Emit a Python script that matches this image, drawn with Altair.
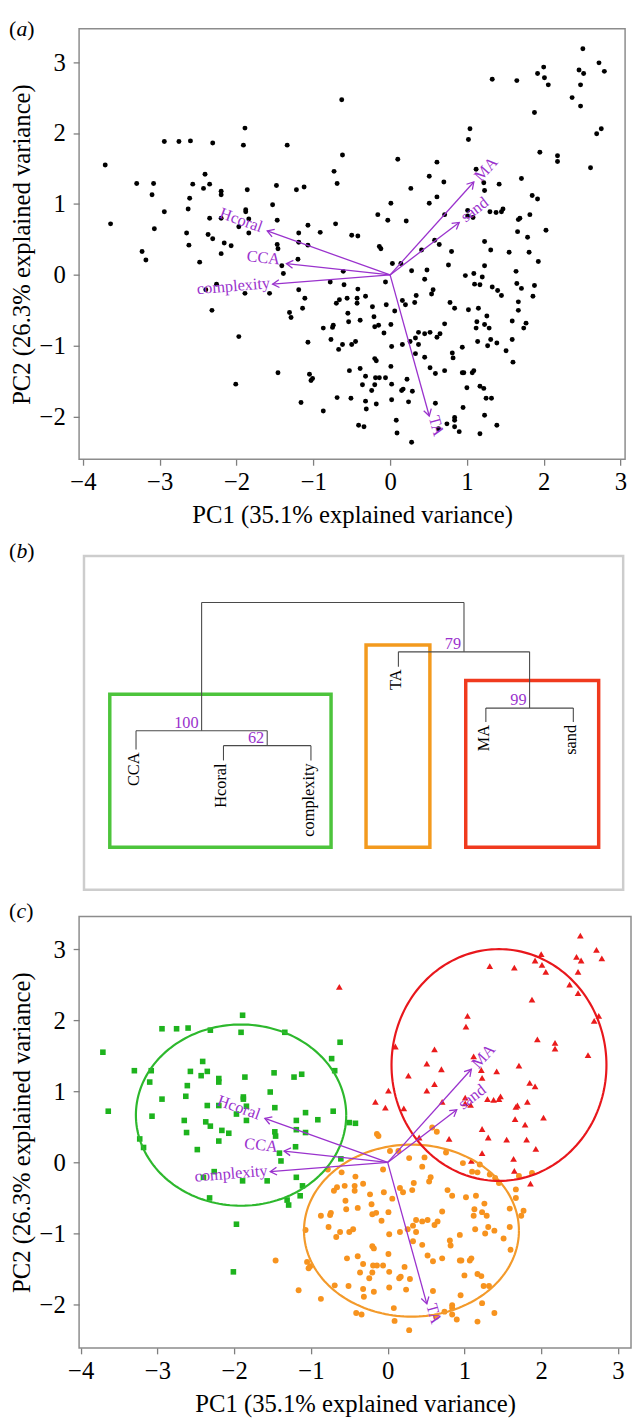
import math
import numpy as np
import pandas as pd
import altair as alt

FONT = "Liberation Serif"
PURPLE = "#9A32CD"

# ---------------- PCA scores (PC1, PC2), split by cluster ----------------
green_x = [-3.71, -3.64, -3.30, -3.23, -3.18, -3.10, -3.08, -3.07, -2.94, -2.94, -2.75, -2.60, -2.65, -2.63,
           -2.61, -2.62, -2.57, -2.41, -2.48, -2.43, -2.35, -2.37, -2.31, -2.35, -2.31, -2.32, -2.40, -2.26,
           -2.20, -2.20, -2.20, -2.20, -2.16, -2.07, -1.97, -1.89, -1.91, -1.88, -1.88, -1.86, -1.97, -1.84,
           -1.84, -1.89, -1.57, -1.53, -1.48, -1.47, -1.47, -1.46, -1.39, -1.41, -1.34, -1.31, -1.29, -1.22,
           -1.19, -1.19, -1.20, -1.19, -1.14, -1.11, -1.12, -1.07, -1.07, -0.91, -0.73, -0.69, -0.71, -0.62,
           -0.61, -0.50, -0.42, -2.01]
green_y = [1.55, 0.72, 1.29, 0.33, 0.21, 1.13, 1.29, 0.65, 1.88, 0.89, 1.88, 1.89, 0.59, 0.93,
           1.08, 0.42, 1.28, 1.42, 0.18, 1.22, 1.28, 0.57, 1.86, 0.80, 0.51, -0.50, -0.21, -0.13,
           1.18, 1.13, 0.80, 0.30, 0.45, 0.41, -0.87, 2.07, 1.83, 0.92, 0.89, 1.20, 0.68, 0.59,
           0.79, -0.26, -0.26, 0.99, 1.26, 0.77, 0.43, 0.37, 0.02, 0.13, 1.83, -0.53, -0.60, 1.20,
           0.59, 0.46, 0.22, -0.21, -0.47, -0.33, 1.24, 0.42, 0.70, 0.60, 1.46, 1.29, 0.72, 1.69,
           0.05, 0.56, 0.55, -1.54]

red_x = [-0.63, -0.16, -0.03, 0.01, 0.10, 0.21, 0.27, 0.41, 0.51, 0.51, 0.61, 0.61, 0.70, 0.71,
         0.80, 1.01, 1.01, 1.04, 1.02, 1.08, 1.12, 1.22, 1.23, 1.23, 1.23, 1.30, 1.31, 1.33,
         1.38, 1.42, 1.45, 1.47, 1.55, 1.64, 1.65, 1.65, 1.66, 1.67, 1.69, 1.71, 1.79, 1.81,
         1.82, 1.85, 1.86, 1.88, 1.92, 1.92, 1.93, 1.95, 2.00, 2.01, 2.03, 2.06, 2.18, 2.18,
         2.37, 2.46, 2.48, 2.48, 2.51, 2.52, 2.61, 2.69, 2.72, 2.75, 2.79, 1.09]
red_y = [2.47, 0.85, 0.77, 1.01, 1.63, 0.76, 1.22, 0.35, 1.39, 1.01, 1.59, 1.10, 1.31, 0.85,
         0.33, 0.91, 0.83, 2.06, 1.91, 0.81, 1.49, 1.30, 1.19, 0.47, 0.13, 0.89, 0.35, 2.76,
         0.88, 1.28, 0.89, 0.93, 0.32, 0.05, 2.74, -0.12, 0.61, 0.78, 0.80, 1.36, 0.53, 0.32,
         0.85, 1.12, -0.30, 2.29, 1.07, 2.84, 0.19, 1.73, 2.93, 2.78, 0.63, 2.68, 1.68, 1.60,
         2.50, 2.89, 2.68, 2.38, 3.19, 2.84, 1.51, 1.99, 2.99, 2.06, 2.87, 0.02]

orange_x = [-0.78, -0.60, -0.70, -0.66, -0.56, -0.55, -0.54, -0.43, -0.43, -0.42, -0.39, -0.32, -0.23, -0.21,
            -0.14, -0.12, -0.20, -0.15, -0.05, -0.06, 0.01, 0.03, 0.06, 0.14, 0.16, 0.20, 0.28, 0.34,
            0.32, 0.45, 0.48, 0.54, 0.56, 0.52, 0.58, 0.64, 0.76, 0.78, 0.84, 0.98, 1.02, 1.10,
            1.13, 1.12, 1.15, 1.17, 1.20, 1.26, 1.23, 1.29, 1.33, 1.40, 1.45, 1.59, 1.67, 1.67,
            1.71, 1.77, 1.74, 1.88, -0.75, -0.74, -0.87, 0.37, 0.45, 0.65, 0.71, -0.08,
            -1.07, -0.77, -0.67, -0.62, -0.50, -0.45, 0.02, 0.16, 0.26, 0.33, 0.37, 0.33, 0.45, 0.61,
            0.81, 0.82, 0.94, 1.14, 1.27, 1.31, 1.39, 1.51, 1.60, 1.59, -1.46, -1.05, -1.01, -1.03,
            -1.16, -0.87, -0.69, -0.53, -0.51, -0.39, -0.32, -0.36, -0.32, -0.31, -0.20, -0.18, -0.24, -0.20,
            -0.19, -0.18, -0.14, -0.06, 0.01, 0.02, 0.02, 0.15, 0.17, 0.22, 0.24, 0.29, 0.08, 0.09,
            0.28, 0.52, 0.59, 0.71, 0.59, 0.63, 0.74, 0.84, 0.84, 0.84, 0.90, 0.95, 0.94, 0.96,
            1.00, 1.07, 1.09, 1.17, 1.22, 1.25, 1.32, 1.23, 1.17, 1.39, -0.41, -0.34]
orange_y = [-0.10, -0.14, -0.40, -0.35, -0.33, -0.54, -0.66, -0.33, -0.40, -0.20, -0.64, -0.30, -0.45, -0.59,
            0.40, 0.37, -0.73, -0.71, -0.42, -0.10, -0.70, 0.16, -0.51, 0.16, -0.36, -0.42, 0.06, -0.29,
            -0.39, -0.06, 0.07, -0.27, -0.21, -0.81, 0.49, 0.43, 0.14, -0.39, -0.47, -0.01, -0.49, -0.13,
            -0.66, -0.75, -0.47, -0.14, -0.03, -0.58, -0.70, -0.75, -0.17, -0.22, -0.29, -0.65, -0.38, -0.50,
            -0.19, -0.68, -0.75, -0.15, -0.74, -0.71, -0.75, -0.81, -0.83, -0.83, -0.69, -0.82,
            -0.95, -0.91, -1.05, -0.98, -0.98, -0.94, -1.01, -0.98, -0.94, -0.89, -0.98, -1.11, -1.16, -0.88,
            -1.10, -1.17, -1.02, -0.94, -1.00, -0.91, -0.96, -1.07, -1.23, -0.91, -1.38, -1.40, -1.46, -1.49,
            -1.80, -1.92, -1.73, -1.35, -1.74, -1.32, -1.43, -1.55, -1.78, -1.89, -1.18, -1.21, -1.63, -1.55,
            -1.45, -1.82, -1.45, -1.45, -1.29, -1.54, -1.76, -1.63, -1.61, -1.47, -1.79, -1.64, -2.05, -2.23,
            -2.36, -1.31, -1.39, -1.35, -1.81, -2.17, -2.10, -2.01, -2.05, -2.14, -2.21, -1.87, -1.38, -1.38,
            -1.59, -1.38, -1.35, -1.57, -1.60, -1.74, -1.74, -1.98, -2.24, -2.12, -2.12, -2.14]

# ---------------- loadings (biplot arrows) ----------------
var_names = ["Hcoral", "CCA", "complexity", "MA", "sand", "TA"]
load_x = [-1.60, -1.35, -1.53, 1.09, 0.90, 0.51]
load_y = [0.62, 0.16, -0.13, 1.31, 0.74, -1.99]
lab_x = [-1.94, -1.65, -2.04, 1.25, 1.10, 0.60]
lab_y = [0.77, 0.24, -0.16, 1.49, 0.92, -2.13]
lab_angle = [19.6, 6.3, 355.3, 312.0, 322.6, 74.5]

# ---------------- cluster ellipses ----------------
ell_group = ["green", "orange", "red"]
ell_cx = [-1.91, 0.31, 1.45]
ell_cy = [0.665, -0.96, 1.37]
ell_rx = [1.37, 1.40, 1.40]
ell_ry = [1.275, 1.21, 1.63]

# ---------------- dendrogram ----------------
leaf_names = ["CCA", "Hcoral", "complexity", "TA", "MA", "sand"]
leaf_pos = [1, 2, 3, 4, 5, 6]
leaf_end = [0.24, 0.13, 0.13, 1.08, 0.52, 0.52]
node_names = ["n1", "n2", "n3", "n4", "n5"]
node_left = ["Hcoral", "CCA", "MA", "TA", "n2"]
node_right = ["complexity", "n1", "sand", "n3", "n4"]
node_height = [0.28, 0.43, 0.66, 1.23, 1.73]
node_support = ["62", "100", "99", "79", ""]
box_x1 = [0.70, 3.63, 4.77]
box_x2 = [3.23, 4.36, 6.29]
box_y1 = [-0.75, -0.75, -0.75]
box_y2 = [0.80, 1.30, 0.94]
frame_x = [0.405, 6.57]
frame_y = [-1.18, 2.20]

# colours
C_GREEN_PT, C_ORANGE_PT, C_RED_PT = "#1DB31D", "#F7931E", "#EA1B1B"
C_GREEN_EL, C_ORANGE_EL, C_RED_EL = "#2DB82D", "#F39A2B", "#E8171C"
BOX_COLORS = ["#4DC43C", "#F39A1E", "#F03A1E"]

# ---------------- geometry of panels ----------------
W_A, H_A, XD_A, YD_A = 553, 436, [-4.05, 3.06], [-2.60, 3.47]
W_C, H_C, XD_C, YD_C = 559, 437, [-4.02, 3.17], [-2.61, 3.46]
W_B, H_B, XD_B, YD_B = 553, 370, [0.349, 6.592], [-1.25, 2.45]
FS = 25

one = pd.DataFrame({"k": [0]})


def tag(letter, x0, ytop):
    base = alt.Chart(one)
    kw = dict(font=FONT, fontSize=22, baseline="top", align="left", color="black")
    w_letter = {"a": 11.0, "b": 11.0, "c": 9.8}[letter]
    return alt.layer(
        base.mark_text(text="(", **kw).encode(x=alt.value(x0), y=alt.value(ytop)),
        base.mark_text(text=letter, fontStyle="italic", **kw).encode(x=alt.value(x0 + 7.6), y=alt.value(ytop)),
        base.mark_text(text=")", **kw).encode(x=alt.value(x0 + 7.6 + w_letter), y=alt.value(ytop)),
    )


def axes(w, h):
    common = dict(grid=False, domain=False, tickSize=6, tickColor="#7f7f7f", tickWidth=1.3, format="d",
                  labelFont=FONT, labelFontSize=FS, labelColor="black", labelOverlap=False, labelFlush=False,
                  titleFont=FONT, titleFontSize=FS, titleFontWeight="normal", titleColor="black")
    ax = alt.Axis(values=[-4, -3, -2, -1, 0, 1, 2, 3], title="PC1 (35.1% explained variance)",
                  labelPadding=5, titleX=w / 2, titleY=56, titleAlign="center", titleBaseline="middle", **common)
    ay = alt.Axis(values=[-2, -1, 0, 1, 2, 3], title="PC2 (26.3% explained variance)",
                  labelPadding=8, titleAngle=270, titleX=-58.5, titleY=h / 2, titleAlign="center",
                  titleBaseline="middle", **common)
    return ax, ay


def biplot(w, h, xd, yd, point_layers, extra_layers, letter, tag_y):
    xs = alt.Scale(domain=xd, nice=False, zero=False)
    ys = alt.Scale(domain=yd, nice=False, zero=False)
    ax, ay = axes(w, h)
    kx = w / (xd[1] - xd[0])
    ky = h / (yd[1] - yd[0])
    ld = pd.DataFrame({"var": var_names, "x0": 0.0, "y0": 0.0, "x": load_x, "y": load_y,
                       "lx": lab_x, "ly": lab_y, "lang": lab_angle})
    ld["head"] = [math.degrees(math.atan2(-yy * ky, xx * kx)) % 360 for xx, yy in zip(load_x, load_y)]

    layers = []
    first = True
    for lay in point_layers:
        if first:
            layers.append(lay.encode(x=alt.X("PC1:Q", scale=xs, axis=ax), y=alt.Y("PC2:Q", scale=ys, axis=ay)))
            first = False
        else:
            layers.append(lay.encode(x=alt.X("PC1:Q", scale=xs), y=alt.Y("PC2:Q", scale=ys)))
    for lay in extra_layers:
        layers.append(lay.encode(x=alt.X("PC1:Q", scale=xs), y=alt.Y("PC2:Q", scale=ys)))
    base = alt.Chart(ld)
    shafts = base.mark_rule(color=PURPLE, strokeWidth=1.3).encode(
        x=alt.X("x0:Q", scale=xs), y=alt.Y("y0:Q", scale=ys), x2="x:Q", y2="y:Q")
    heads = base.mark_point(shape="M-2,-1.2L0,0L-2,1.2", filled=False, size=44, strokeWidth=1.3,
                            color=PURPLE, opacity=1).encode(
        x=alt.X("x:Q", scale=xs), y=alt.Y("y:Q", scale=ys), angle=alt.Angle("head:Q", scale=None))
    labels = base.mark_text(font=FONT, fontSize=16.5, color=PURPLE, align="center", baseline="middle").encode(
        x=alt.X("lx:Q", scale=xs), y=alt.Y("ly:Q", scale=ys), text="var:N",
        angle=alt.Angle("lang:Q", scale=None))
    layers += [shafts, heads, labels, tag(letter, -71, tag_y)]
    return alt.layer(*layers).properties(width=w, height=h)


# ---------------- panel (a) ----------------
all_df = pd.DataFrame({"PC1": green_x + orange_x + red_x, "PC2": green_y + orange_y + red_y})
pa = biplot(W_A, H_A, XD_A, YD_A,
            [alt.Chart(all_df).mark_circle(size=25, color="black", opacity=1)], [], "a", -10)

# ---------------- panel (c) ----------------
g_df = pd.DataFrame({"PC1": green_x, "PC2": green_y})
o_df = pd.DataFrame({"PC1": orange_x, "PC2": orange_y})
r_df = pd.DataFrame({"PC1": red_x, "PC2": red_y})
ell_cols = {"green": C_GREEN_EL, "orange": C_ORANGE_EL, "red": C_RED_EL}
t = np.linspace(0, 2 * np.pi, 181)
ell_layers = []
for gname, cx, cy, rx, ry in zip(ell_group, ell_cx, ell_cy, ell_rx, ell_ry):
    edf = pd.DataFrame({"PC1": cx + rx * np.cos(t), "PC2": cy + ry * np.sin(t), "o": np.arange(len(t))})
    ell_layers.append(alt.Chart(edf).mark_line(color=ell_cols[gname], strokeWidth=2.2).encode(order="o:Q"))
pts_c = [
    alt.Chart(o_df).mark_circle(size=36, color=C_ORANGE_PT, opacity=1),
    alt.Chart(g_df).mark_square(size=32, color=C_GREEN_PT, opacity=1),
    alt.Chart(r_df).mark_point(shape="triangle-up", filled=True, size=46, color=C_RED_PT, opacity=1),
]
pc = biplot(W_C, H_C, XD_C, YD_C, pts_c, ell_layers, "c", -15)

# ---------------- panel (b) : dendrogram ----------------
xpos = dict(zip(leaf_names, leaf_pos))
top = dict(zip(leaf_names, leaf_end))
segs = []
nodes = []
for n, l, r, hgt, sup in zip(node_names, node_left, node_right, node_height, node_support):
    xl, xr = xpos[l], xpos[r]
    segs.append((xl, hgt, xr, hgt))
    segs.append((xl, top[l], xl, hgt))
    segs.append((xr, top[r], xr, hgt))
    xpos[n] = (xl + xr) / 2
    top[n] = hgt
    nodes.append((xpos[n], hgt, sup))
seg_df = pd.DataFrame(segs, columns=["x", "y", "x2", "y2"])
node_df = pd.DataFrame(nodes, columns=["x", "y", "sup"])
leaf_df = pd.DataFrame({"x": leaf_pos, "y": [e - 0.03 for e in leaf_end], "name": leaf_names})
box_df = pd.DataFrame({"x": box_x1, "x2": box_x2, "y": box_y1, "y2": box_y2, "col": BOX_COLORS})
frm_df = pd.DataFrame({"x": [frame_x[0]], "x2": [frame_x[1]], "y": [frame_y[0]], "y2": [frame_y[1]]})

bx = alt.Scale(domain=XD_B, nice=False, zero=False)
by = alt.Scale(domain=YD_B, nice=False, zero=False)
X = lambda f: alt.X(f, scale=bx, axis=None)
Y = lambda f: alt.Y(f, scale=by, axis=None)

frame_b = alt.Chart(frm_df).mark_rect(filled=False, stroke="#cdcdcd", strokeWidth=2.5).encode(
    x=X("x:Q"), x2="x2:Q", y=Y("y:Q"), y2="y2:Q")
boxes = alt.Chart(box_df).mark_rect(filled=False, strokeWidth=3.5).encode(
    x=X("x:Q"), x2="x2:Q", y=Y("y:Q"), y2="y2:Q", stroke=alt.Stroke("col:N", scale=None))
tree = alt.Chart(seg_df).mark_rule(color="#4a4a4a", strokeWidth=1.1).encode(
    x=X("x:Q"), x2="x2:Q", y=Y("y:Q"), y2="y2:Q")
leaf_txt = alt.Chart(leaf_df).mark_text(font=FONT, fontSize=16.5, color="black", angle=270, align="right",
                                        baseline="middle", dy=-2).encode(x=X("x:Q"), y=Y("y:Q"), text="name:N")
sup_txt = alt.Chart(node_df).mark_text(font=FONT, fontSize=16.5, color=PURPLE, align="right",
                                       baseline="alphabetic", dx=-3, dy=-3).encode(
    x=X("x:Q"), y=Y("y:Q"), text="sup:N")
pb = alt.layer(frame_b, boxes, tree, leaf_txt, sup_txt, tag("b", -71, 10)).properties(
    width=W_B, height=H_B, view=alt.ViewBackground(strokeOpacity=0))

chart = alt.vconcat(pa, pb, pc, spacing=3).properties(padding=0).configure_view(
    stroke="#8c8c8c", strokeWidth=1.5)

chart.save("out.html", embed_options={"renderer": "svg", "actions": False})
